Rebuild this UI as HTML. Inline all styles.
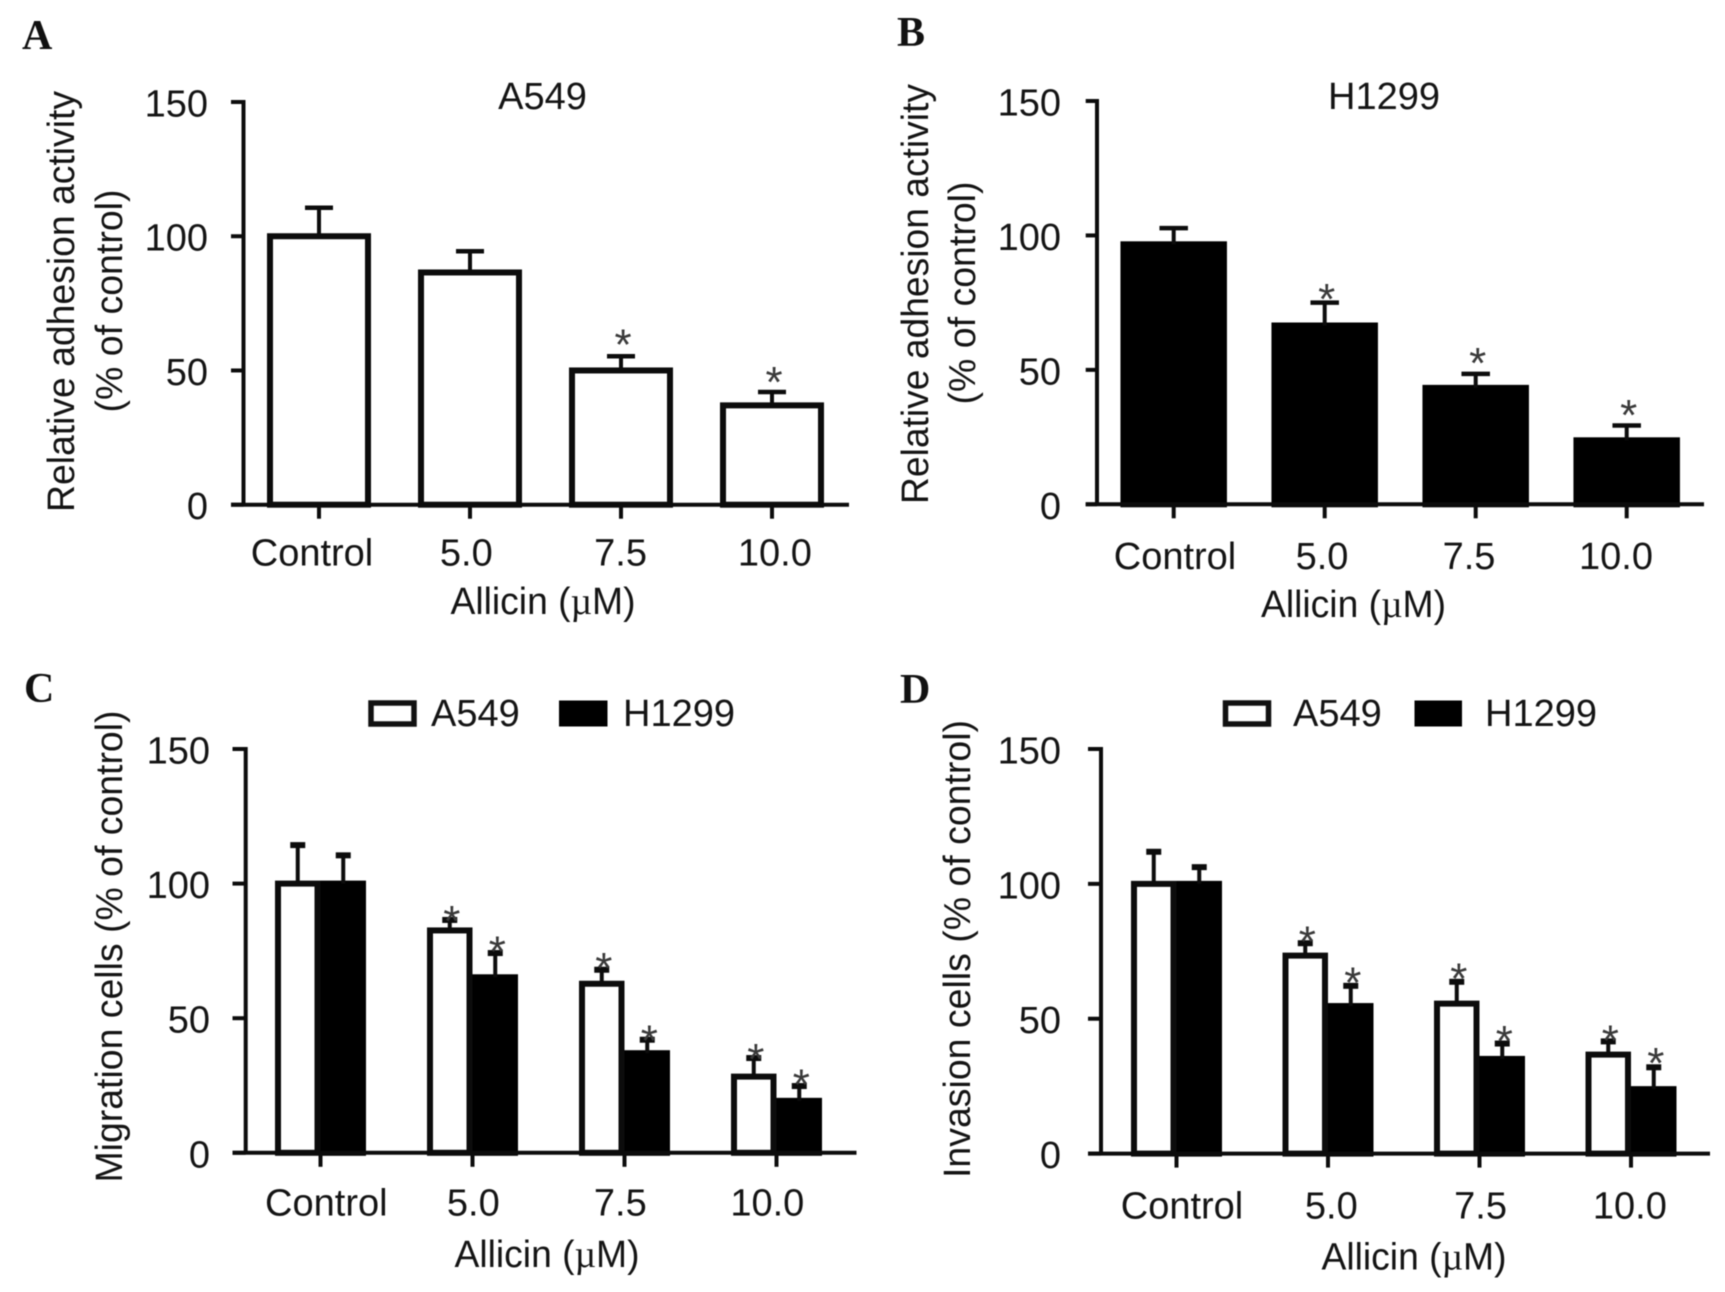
<!DOCTYPE html>
<html lang="en">
<head>
<meta charset="utf-8">
<title>Allicin adhesion, migration and invasion charts</title>
<style>
html,body{margin:0;padding:0;background:#fff;}
svg{display:block;filter:blur(0.6px);}
text{font-family:"Liberation Sans",Arial,sans-serif;font-size:38px;fill:#141414;}
.letter{font-family:"Liberation Serif","Times New Roman",serif;font-weight:bold;font-size:42px;fill:#111;}
.mu{font-family:"Liberation Serif","Times New Roman",serif;}
</style>
</head>
<body>
<svg id="figure" xmlns="http://www.w3.org/2000/svg" width="1725" height="1292" viewBox="0 0 1725 1292">
  <rect x="0" y="0" width="1725" height="1292" fill="#fff"/>

  <text class="letter" x="22" y="49">A</text>
  <text class="letter" x="897" y="46">B</text>
  <text class="letter" x="24" y="702">C</text>
  <text class="letter" x="900" y="703">D</text>

  <text x="542.5" y="109" text-anchor="middle">A549</text>
  <text x="1384" y="109" text-anchor="middle">H1299</text>

  <text transform="translate(74,301.5) rotate(-90)" text-anchor="middle" textLength="421" lengthAdjust="spacingAndGlyphs">Relative adhesion activity</text>
  <text transform="translate(122,301) rotate(-90)" text-anchor="middle" textLength="223" lengthAdjust="spacingAndGlyphs">(% of control)</text>
  <text transform="translate(928,294) rotate(-90)" text-anchor="middle" textLength="420" lengthAdjust="spacingAndGlyphs">Relative adhesion activity</text>
  <text transform="translate(975,293) rotate(-90)" text-anchor="middle" textLength="223" lengthAdjust="spacingAndGlyphs">(% of control)</text>
  <text transform="translate(122,946.5) rotate(-90)" text-anchor="middle" textLength="472" lengthAdjust="spacingAndGlyphs">Migration cells (% of control)</text>
  <text transform="translate(970,949) rotate(-90)" text-anchor="middle" textLength="458" lengthAdjust="spacingAndGlyphs">Invasion cells (% of control)</text>

  <text x="543" y="614" text-anchor="middle" textLength="185" lengthAdjust="spacingAndGlyphs">Allicin (<tspan class="mu">µ</tspan>M)</text>
  <text x="1353.5" y="617" text-anchor="middle" textLength="185" lengthAdjust="spacingAndGlyphs">Allicin (<tspan class="mu">µ</tspan>M)</text>
  <text x="547" y="1267" text-anchor="middle" textLength="185" lengthAdjust="spacingAndGlyphs">Allicin (<tspan class="mu">µ</tspan>M)</text>
  <text x="1414" y="1269.5" text-anchor="middle" textLength="185" lengthAdjust="spacingAndGlyphs">Allicin (<tspan class="mu">µ</tspan>M)</text>

  <g>
    <rect x="371" y="703" width="43" height="21" fill="#fff" stroke="#111" stroke-width="5.5"/>
    <text x="431" y="726">A549</text>
    <rect x="559" y="700.5" width="48.5" height="26" fill="#000"/>
    <text x="623" y="726">H1299</text>
  </g>
  <g>
    <rect x="1225.5" y="703" width="43" height="21" fill="#fff" stroke="#111" stroke-width="5.5"/>
    <text x="1293" y="726">A549</text>
    <rect x="1414.5" y="700.5" width="47.5" height="26" fill="#000"/>
    <text x="1485" y="726">H1299</text>
  </g>
</svg>

<script>
// ---- Shared labels ----
const categories = ["Control", "5.0", "7.5", "10.0"];
const yTickLabels = [0, 50, 100, 150];

// ---- Panel A (A549 adhesion) ----
const panelAValues = [100, 86.5, 50, 37];
const panelAErrors = [10.6, 7.9, 5.3, 5];
const panelAStarGaps = [null, null, 12.2, 11.3];

// ---- Panel B (H1299 adhesion) ----
const panelBValues = [96.7, 66.5, 43.3, 23.8];
const panelBErrors = [6, 8.5, 5.2, 5.5];
const panelBStarGaps = [null, 12.4, 11.8, 12.1];

// ---- Panel C (migration) ----
const panelCA549Values = [100, 82.6, 62.8, 28.3];
const panelCA549Errors = [14.3, 3.9, 5.2, 6.9];
const panelCA549StarGaps = [null, 6.2, 8.4, 9.2];
const panelCH1299Values = [100, 65.2, 37, 19.3];
const panelCH1299Errors = [10.5, 9, 5, 5.5];
const panelCH1299StarGaps = [null, 12.1, 7.4, 8.6];

// ---- Panel D (invasion) ----
const panelDA549Values = [100, 73.4, 55.6, 36.7];
const panelDA549Errors = [11.9, 4.6, 8.1, 4.9];
const panelDA549StarGaps = [null, 7.9, 12, 7.9];
const panelDH1299Values = [100, 54.7, 35.1, 23.9];
const panelDH1299Errors = [6.2, 7.5, 5.7, 8.1];
const panelDH1299StarGaps = [null, 11.3, 9.2, 12.3];

const SVG_NS = "http://www.w3.org/2000/svg";
const figure = document.getElementById("figure");
const INK = "#0c0c0c";
const BAR_STROKE = 6;
const AXIS_STROKE = 4;
const ERROR_STROKE = 4;

function make(parent, tag, attrs) {
  const node = document.createElementNS(SVG_NS, tag);
  for (const key in attrs) node.setAttribute(key, attrs[key]);
  parent.appendChild(node);
  return node;
}

function drawPanel(cfg) {
  const group = make(figure, "g", {});
  
  

  const yScale = v => cfg.y0 - v * (cfg.y0 - cfg.y150) / 150;
  const xScale = i => cfg.tickStart + i * cfg.tickStep;
  const labelX = i => cfg.labelStart + i * cfg.labelStep;

  cfg.series.forEach((series, s) => {
    const count = cfg.series.length;
    series.values.forEach((value, i) => {
      const left = xScale(i) - cfg.barW * count / 2 + s * cfg.barW;
      const top = yScale(value);
      const cx = left + cfg.barW / 2;

      const bar = make(group, "rect", {
        x: left + BAR_STROKE / 2,
        y: top,
        width: cfg.barW - BAR_STROKE,
        height: cfg.y0 - top,
        fill: series.fill,
        stroke: series.fill === "#000" ? "#000" : INK,
        "stroke-width": BAR_STROKE
      });
      
      

      const errTop = yScale(value + series.errors[i]);
      const stem = make(group, "line", {
        x1: cx, x2: cx, y1: top, y2: errTop,
        stroke: INK, "stroke-width": ERROR_STROKE
      });
      
      

      const cap = make(group, "line", {
        x1: cx - cfg.capW / 2, x2: cx + cfg.capW / 2, y1: errTop, y2: errTop,
        stroke: INK, "stroke-width": cfg.capStroke
      });
      
      
    });
  });

  // stars are drawn after every bar so they sit over neighbouring caps
  cfg.series.forEach((series, s) => {
    const count = cfg.series.length;
    series.stars.forEach((gap, i) => {
      if (gap === null) return;
      const left = xScale(i) - cfg.barW * count / 2 + s * cfg.barW;
      const star = make(group, "text", {
        x: left + cfg.barW / 2 + 2,
        y: yScale(series.values[i] + gap) + 22,
        "text-anchor": "middle",
        style: "fill:#3a3a3a;font-size:44px"
      });
      star.textContent = "*";
      
      
    });
  });

  const yAxis = make(group, "line", {
    x1: cfg.axisX, x2: cfg.axisX, y1: cfg.y150 - AXIS_STROKE / 2, y2: cfg.y0,
    stroke: INK, "stroke-width": AXIS_STROKE
  });
  
  

  const xAxis = make(group, "line", {
    x1: cfg.axisLeft, x2: cfg.axisRight, y1: cfg.y0, y2: cfg.y0,
    stroke: INK, "stroke-width": AXIS_STROKE
  });
  
  

  yTickLabels.forEach(label => {
    const y = yScale(label);
    const tick = make(group, "line", {
      x1: cfg.axisLeft, x2: cfg.axisX, y1: y, y2: y,
      stroke: INK, "stroke-width": AXIS_STROKE
    });
    
    

    const text = make(group, "text", {
      x: cfg.yLabelRight, y: y + 14.5, "text-anchor": "end"
    });
    text.textContent = String(label);
    
    
  });

  categories.forEach((name, i) => {
    const x = xScale(i);
    const tick = make(group, "line", {
      x1: x, x2: x, y1: cfg.y0, y2: cfg.y0 + 14,
      stroke: INK, "stroke-width": AXIS_STROKE
    });
    
    

    const text = make(group, "text", {
      x: labelX(i), y: cfg.labelBaseline, "text-anchor": "middle"
    });
    text.textContent = name;
    
    
  });
}

drawPanel({
  id: "a", axisX: 243.5, axisLeft: 231, axisRight: 849, y0: 504.7, y150: 102,
  tickStart: 319, tickStep: 151, labelStart: 312, labelStep: 154.3, labelBaseline: 565.5,
  yLabelRight: 208, barW: 104, capW: 28, capStroke: 4.5,
  series: [{ name: "a549", fill: "#fff", values: panelAValues, errors: panelAErrors, stars: panelAStarGaps }]
});
drawPanel({
  id: "b", axisX: 1097, axisLeft: 1085.7, axisRight: 1704, y0: 504.3, y150: 101,
  tickStart: 1173.7, tickStep: 151, labelStart: 1175, labelStep: 147, labelBaseline: 569,
  yLabelRight: 1061, barW: 106.5, capW: 28.5, capStroke: 4.5,
  series: [{ name: "h1299", fill: "#000", values: panelBValues, errors: panelBErrors, stars: panelBStarGaps }]
});
drawPanel({
  id: "c", axisX: 245.7, axisLeft: 232.5, axisRight: 856.5, y0: 1152.8, y150: 749,
  tickStart: 320.5, tickStep: 152, labelStart: 326.3, labelStep: 147, labelBaseline: 1215.5,
  yLabelRight: 210, barW: 45.5, capW: 15, capStroke: 6,
  series: [
    { name: "a549", fill: "#fff", values: panelCA549Values, errors: panelCA549Errors, stars: panelCA549StarGaps },
    { name: "h1299", fill: "#000", values: panelCH1299Values, errors: panelCH1299Errors, stars: panelCH1299StarGaps }
  ]
});
drawPanel({
  id: "d", axisX: 1101, axisLeft: 1088, axisRight: 1710, y0: 1153.6, y150: 749,
  tickStart: 1176.5, tickStep: 151.5, labelStart: 1182, labelStep: 149.3, labelBaseline: 1218.7,
  yLabelRight: 1061, barW: 45.5, capW: 15, capStroke: 6,
  series: [
    { name: "a549", fill: "#fff", values: panelDA549Values, errors: panelDA549Errors, stars: panelDA549StarGaps },
    { name: "h1299", fill: "#000", values: panelDH1299Values, errors: panelDH1299Errors, stars: panelDH1299StarGaps }
  ]
});
</script>
</body>
</html>
